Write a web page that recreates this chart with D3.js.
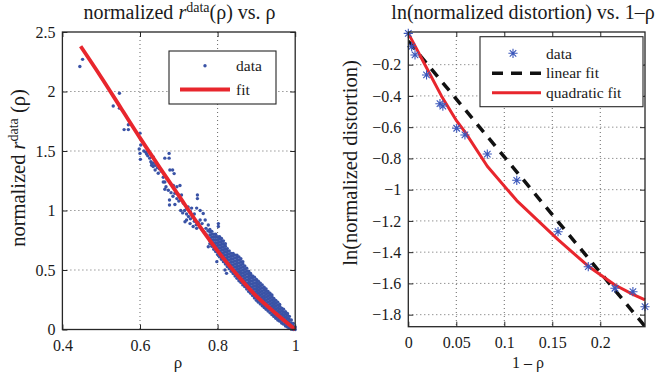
<!DOCTYPE html>
<html><head><meta charset="utf-8">
<script src="https://cdn.jsdelivr.net/npm/d3@7"></script>
<style>
body{margin:0;background:#fff}
svg{display:block}
</style>
</head><body>
<svg id="c" width="666" height="382" font-family="Liberation Serif"></svg>
<script>
// ---------------- data: left panel ----------------
const leftXTicks = [0.4, 0.6, 0.8, 1];
const leftYTicks = [0, 0.5, 1, 1.5, 2, 2.5];
// sparse scattered points (rho, r)
const sparseRho = [0.445,0.452,0.547,0.531,0.547,0.559,0.57,0.57,0.6,0.602,0.598,0.6,0.601,0.617,0.628,0.63,0.634,0.63,0.634,0.647,0.664,0.675,0.675,0.66,0.669,0.677,0.684,0.688,0.664,0.667,0.673,0.676,0.676,0.686,0.695,0.703,0.69,0.699,0.707,0.712,0.724,0.733,0.746,0.748,0.748,0.634,0.639,0.66,0.664,0.716,0.72,0.729,0.737,0.746,0.755,0.768,0.776,0.802,0.802,0.755,0.763,0.776,0.793,0.798,0.819,0.823,0.69,0.70,0.705,0.71,0.715,0.72,0.725,0.73,0.735,0.74,0.745,0.75,0.755,0.76,0.765,0.77,0.77,0.76,0.775,0.74,0.73,0.72,0.705,0.695,0.68,0.685,0.65,0.655,0.64,0.645,0.62,0.625,0.61,0.615];
const sparseR   = [2.21,2.27,1.985,1.878,1.86,1.68,1.68,1.72,1.65,1.55,1.517,1.48,1.43,1.475,1.41,1.40,1.45,1.38,1.37,1.313,1.44,1.48,1.44,1.28,1.27,1.34,1.34,1.31,1.24,1.2,1.17,1.088,1.046,1.21,1.2,1.21,1.145,1.13,1.13,1.06,1.03,1.02,1.02,1.13,1.1,1.397,1.34,1.24,1.178,0.905,0.92,0.89,0.865,0.85,0.92,0.92,0.878,0.89,0.865,1.0,0.975,0.696,0.71,0.57,0.5,0.472,1.05,1.08,1.0,0.98,1.0,0.97,0.95,0.93,0.95,0.91,0.88,0.9,0.86,0.84,0.82,0.80,0.85,0.89,0.83,0.97,0.99,1.02,1.09,1.1,1.15,1.12,1.35,1.33,1.38,1.36,1.46,1.44,1.50,1.49];
// dense band near rho -> 1, listed column by column: [rho, [r values]]
const denseColumns = [
 [0.780,[0.72,0.745,0.77,0.795,0.82,0.84]],
 [0.785,[0.70,0.725,0.75,0.775,0.80,0.825]],
 [0.790,[0.675,0.70,0.725,0.75,0.775,0.80]],
 [0.795,[0.655,0.68,0.705,0.73,0.755,0.78,0.80]],
 [0.800,[0.63,0.655,0.68,0.705,0.73,0.755,0.78]],
 [0.805,[0.61,0.635,0.66,0.685,0.71,0.735,0.76,0.78]],
 [0.810,[0.59,0.615,0.64,0.665,0.69,0.715,0.74,0.765]],
 [0.815,[0.57,0.595,0.62,0.645,0.67,0.695,0.72,0.745]],
 [0.820,[0.55,0.575,0.60,0.625,0.65,0.675,0.70,0.72]],
 [0.825,[0.53,0.555,0.58,0.605,0.63,0.655,0.68]],
 [0.830,[0.51,0.535,0.56,0.585,0.61,0.635,0.66]],
 [0.835,[0.49,0.515,0.54,0.565,0.59,0.615,0.64]],
 [0.840,[0.47,0.495,0.52,0.545,0.57,0.595,0.62,0.64]],
 [0.845,[0.45,0.475,0.50,0.525,0.55,0.575,0.60,0.625]],
 [0.850,[0.43,0.455,0.48,0.505,0.53,0.555,0.58,0.605,0.625]],
 [0.855,[0.41,0.435,0.46,0.485,0.51,0.535,0.56,0.585,0.61]],
 [0.860,[0.395,0.42,0.445,0.47,0.495,0.52,0.545,0.57,0.595]],
 [0.865,[0.375,0.40,0.425,0.45,0.475,0.50,0.525,0.55,0.57]],
 [0.870,[0.36,0.385,0.41,0.435,0.46,0.485,0.51,0.535]],
 [0.875,[0.34,0.365,0.39,0.415,0.44,0.465,0.49,0.515]],
 [0.880,[0.32,0.345,0.37,0.395,0.42,0.445,0.47,0.49]],
 [0.885,[0.305,0.33,0.355,0.38,0.405,0.43,0.455,0.47]],
 [0.890,[0.285,0.31,0.335,0.36,0.385,0.41,0.435,0.45]],
 [0.895,[0.265,0.29,0.315,0.34,0.365,0.39,0.415,0.44]],
 [0.900,[0.245,0.27,0.295,0.32,0.345,0.37,0.395,0.42]],
 [0.905,[0.23,0.255,0.28,0.305,0.33,0.355,0.38,0.405]],
 [0.910,[0.215,0.24,0.265,0.29,0.315,0.34,0.365,0.39]],
 [0.915,[0.20,0.225,0.25,0.275,0.30,0.325,0.35,0.375]],
 [0.920,[0.185,0.21,0.235,0.26,0.285,0.31,0.335,0.355]],
 [0.925,[0.17,0.195,0.22,0.245,0.27,0.295,0.32,0.34]],
 [0.930,[0.155,0.18,0.205,0.23,0.255,0.28,0.305,0.32]],
 [0.935,[0.14,0.165,0.19,0.215,0.24,0.265,0.29,0.305]],
 [0.940,[0.125,0.15,0.175,0.20,0.225,0.25,0.275,0.29]],
 [0.945,[0.11,0.135,0.16,0.185,0.21,0.235,0.26]],
 [0.950,[0.095,0.12,0.145,0.17,0.195,0.22,0.245]],
 [0.955,[0.08,0.105,0.13,0.155,0.18,0.205,0.23]],
 [0.960,[0.07,0.095,0.12,0.145,0.17,0.195,0.21]],
 [0.965,[0.055,0.08,0.105,0.13,0.155,0.18]],
 [0.970,[0.045,0.07,0.095,0.12,0.145,0.17]],
 [0.975,[0.03,0.055,0.08,0.105,0.13,0.15]],
 [0.980,[0.02,0.045,0.07,0.095,0.12,0.135]],
 [0.985,[0.01,0.035,0.06,0.085,0.11]],
 [0.990,[0.005,0.03,0.055,0.08]],
 [0.995,[0.0,0.025,0.05]],
 [1.000,[0.0,0.02]]
];
const fitRho = [0.447,0.5,0.55,0.6,0.65,0.7,0.75,0.8,0.85,0.9,0.95,1.0];
const fitR   = [2.38,2.12,1.865,1.61,1.365,1.125,0.885,0.66,0.46,0.28,0.135,0];

// ---------------- data: right panel ----------------
const rightXTicks = [0, 0.05, 0.1, 0.15, 0.2];
const rightYTicks = [-1.8,-1.6,-1.4,-1.2,-1,-0.8,-0.6,-0.4,-0.2];
const distX = [0,0.0035,0.007,0.019,0.033,0.036,0.0504,0.059,0.0823,0.113,0.156,0.1875,0.2153,0.234,0.2466];
const distY = [0,-0.085,-0.138,-0.266,-0.45,-0.465,-0.607,-0.65,-0.772,-0.94,-1.269,-1.493,-1.631,-1.653,-1.749];
const linFitX = [0, 0.2466];
const linFitY = [-0.05, -1.875];
const quadFitX = [0,0.0035,0.007,0.019,0.0345,0.0504,0.059,0.0823,0.113,0.156,0.1875,0.2153,0.234,0.2466];
const quadFitY = [0,-0.04,-0.08,-0.22,-0.40,-0.56,-0.63,-0.85,-1.07,-1.32,-1.49,-1.61,-1.67,-1.706];

// ---------------- drawing ----------------
const FONT = "Liberation Serif";
const svg = d3.select("#c");
const BLUE = "#3a53a6", RED = "#e8262d", AX = "#262626";
const tickFont = 16;

function panel(o){
  const g = svg.append("g");
  const x = o.x, y = o.y;
  const [x0,x1] = x.range(), [y0,y1] = y.range();
  const grid = g.append("g").attr("stroke","#555").attr("stroke-width",0.9).attr("stroke-dasharray","1,3");
  o.xGrid.forEach(v=>grid.append("line").attr("x1",x(v)).attr("x2",x(v)).attr("y1",y1).attr("y2",y0));
  o.yGrid.forEach(v=>grid.append("line").attr("y1",y(v)).attr("y2",y(v)).attr("x1",x0).attr("x2",x1));
  const ax = g.append("g").attr("class","axes");
  const a1 = ax.append("g").attr("transform",`translate(0,${y0})`)
    .call(d3.axisBottom(x).tickValues(o.xTicks).tickSizeInner(-5).tickSizeOuter(0).tickPadding(10).tickFormat(o.xFmt));
  const a2 = ax.append("g").attr("transform",`translate(0,${y1})`)
    .call(d3.axisTop(x).tickValues(o.xTicks).tickSizeInner(-5).tickSizeOuter(0).tickFormat(""));
  const a3 = ax.append("g").attr("transform",`translate(${x0},0)`)
    .call(d3.axisLeft(y).tickValues(o.yTicks).tickSizeInner(-5).tickSizeOuter(0).tickPadding(7).tickFormat(o.yFmt));
  const a4 = ax.append("g").attr("transform",`translate(${x1},0)`)
    .call(d3.axisRight(y).tickValues(o.yTicks).tickSizeInner(-5).tickSizeOuter(0).tickFormat(""));
  [a1,a2,a3,a4].forEach(a=>a.attr("font-family",FONT).attr("font-size",tickFont));
  ax.selectAll("path.domain").remove();
  ax.selectAll(".tick line").attr("stroke",AX).attr("stroke-width",1);
  ax.selectAll(".tick text").attr("font-family",FONT).attr("font-size",tickFont).attr("fill","#1a1a1a");
  return g;
}
function box(g,x,y){
  const [x0,x1] = x.range(), [y0,y1] = y.range();
  g.append("rect").attr("x",x0).attr("y",y1).attr("width",x1-x0).attr("height",y0-y1)
   .attr("fill","none").attr("stroke",AX).attr("stroke-width",1.3);
}
const fmtMinus = d => (d<0?"\u2212":"") + Math.abs(d);
function txt(parent){ return parent.append("text").attr("font-family",FONT).attr("fill","#1a1a1a"); }

// ----- left panel -----
const xL = d3.scaleLinear().domain([0.4,1]).range([62.4,295.2]);
const yL = d3.scaleLinear().domain([0,2.5]).range([329.5,32]);
const gL = panel({x:xL,y:yL,xTicks:leftXTicks,yTicks:leftYTicks,xGrid:[0.6,0.8],yGrid:[0.5,1,1.5,2],
  xFmt:d=>String(d), yFmt:d=>String(d)});
const pts = [];
sparseRho.forEach((r,i)=>pts.push([r,sparseR[i]]));
denseColumns.forEach(([r,ys])=>ys.forEach(v=>pts.push([r,v])));
gL.append("g").attr("fill",BLUE).selectAll("circle").data(pts).join("circle")
  .attr("cx",d=>xL(d[0])).attr("cy",d=>yL(d[1])).attr("r",1.7);
gL.append("path").datum(fitRho.map((r,i)=>[r,fitR[i]]))
  .attr("d",d3.line().curve(d3.curveMonotoneX).x(d=>xL(d[0])).y(d=>yL(d[1])))
  .attr("fill","none").attr("stroke",RED).attr("stroke-width",3.8).attr("stroke-linejoin","round");
box(gL,xL,yL);
const lgL = gL.append("g");
lgL.append("rect").attr("x",169).attr("y",51).attr("width",107).attr("height",53).attr("fill","#fff").attr("stroke",AX).attr("stroke-width",1.1);
lgL.append("circle").attr("cx",205).attr("cy",65.7).attr("r",1.7).attr("fill",BLUE);
lgL.append("line").attr("x1",180).attr("x2",230).attr("y1",89.5).attr("y2",89.5).attr("stroke",RED).attr("stroke-width",3.8);
txt(lgL).attr("x",236).attr("y",71).attr("font-size",15.5).text("data");
txt(lgL).attr("x",236).attr("y",95).attr("font-size",15.5).text("fit");
const tL = txt(svg).attr("x",179.5).attr("y",19).attr("text-anchor","middle").attr("font-size",20);
tL.append("tspan").text("normalized ");
tL.append("tspan").attr("font-style","italic").text("r");
tL.append("tspan").attr("font-size",14).attr("dy",-7).text("data");
tL.append("tspan").attr("dy",7).text("(\u03c1) vs. \u03c1");
txt(svg).attr("x",178).attr("y",368).attr("text-anchor","middle").attr("font-size",17).text("\u03c1");
const yl = txt(svg).attr("transform","translate(25,168) rotate(-90)").attr("text-anchor","middle").attr("font-size",20.5);
yl.append("tspan").text("normalized ");
yl.append("tspan").attr("font-style","italic").text("r");
yl.append("tspan").attr("font-size",14).attr("dy",-7).text("data");
yl.append("tspan").attr("dy",7).text(" (\u03c1)");

// ----- right panel -----
const xR = d3.scaleLinear().domain([0,0.2466]).range([408.3,645]);
const yR = d3.scaleLinear().domain([-1.877,0.009]).range([326.7,32]);
const gR = panel({x:xR,y:yR,xTicks:rightXTicks,yTicks:rightYTicks,xGrid:[0.05,0.1,0.15,0.2],yGrid:rightYTicks,
  xFmt:d=>String(d), yFmt:fmtMinus});
gR.append("defs").append("clipPath").attr("id","clipR").append("rect")
  .attr("x",408.3).attr("y",32).attr("width",645-408.3).attr("height",326.7-32);
gR.append("path").datum(linFitX.map((v,i)=>[v,linFitY[i]]))
  .attr("d",d3.line().x(d=>xR(d[0])).y(d=>yR(d[1])))
  .attr("clip-path","url(#clipR)")
  .attr("fill","none").attr("stroke","#111").attr("stroke-width",3.5).attr("stroke-dasharray","10,8");
gR.append("path").datum(quadFitX.map((v,i)=>[v,quadFitY[i]]))
  .attr("d",d3.line().x(d=>xR(d[0])).y(d=>yR(d[1])))
  .attr("fill","none").attr("stroke",RED).attr("stroke-width",3).attr("stroke-linejoin","round");
const starR = 4.6, sa = starR*0.7071;
const starPath = `M${-starR},0L${starR},0M0,${-starR}L0,${starR}M${-sa},${-sa}L${sa},${sa}M${-sa},${sa}L${sa},${-sa}`;
const STAR = "#3b57bb";
gR.append("g").selectAll("path").data(distX.map((v,i)=>[v,distY[i]])).join("path")
  .attr("transform",d=>`translate(${xR(d[0])},${yR(d[1])})`).attr("d",starPath)
  .attr("fill","none").attr("stroke",STAR).attr("stroke-width",1.1);
box(gR,xR,yR);
const lgR = gR.append("g");
lgR.append("rect").attr("x",480).attr("y",36.7).attr("width",163).attr("height",70).attr("fill","#fff").attr("stroke",AX).attr("stroke-width",1.1);
lgR.append("path").attr("transform","translate(513,53.3)").attr("d",starPath).attr("fill","none").attr("stroke",STAR).attr("stroke-width",1.1);
lgR.append("line").attr("x1",492).attr("x2",541).attr("y1",73.3).attr("y2",73.3).attr("stroke","#111").attr("stroke-width",3.5).attr("stroke-dasharray","11,8");
lgR.append("line").attr("x1",492).attr("x2",541).attr("y1",92.7).attr("y2",92.7).attr("stroke",RED).attr("stroke-width",3);
txt(lgR).attr("x",546).attr("y",58.5).attr("font-size",15.5).text("data");
txt(lgR).attr("x",546).attr("y",78).attr("font-size",15.5).text("linear fit");
txt(lgR).attr("x",546).attr("y",97.5).attr("font-size",15.5).text("quadratic fit");
txt(svg).attr("x",523).attr("y",19).attr("text-anchor","middle").attr("font-size",20).text("ln(normalized distortion) vs. 1\u2013\u03c1");
txt(svg).attr("x",528).attr("y",368).attr("text-anchor","middle").attr("font-size",16).text("1 \u2013 \u03c1");
txt(svg).attr("transform","translate(357,163) rotate(-90)").attr("text-anchor","middle").attr("font-size",20.5).text("ln(normalized distortion)");
</script>
</body></html>
